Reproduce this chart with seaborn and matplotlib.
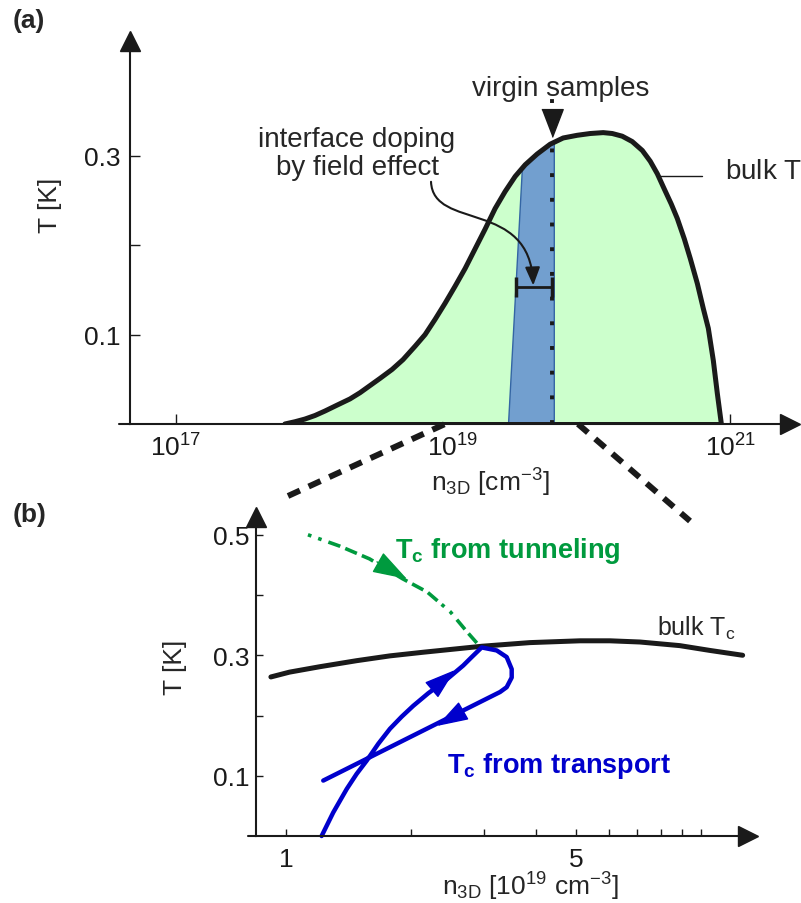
import numpy as np
import matplotlib
matplotlib.use("Agg")
import matplotlib.pyplot as plt
import seaborn as sns
from matplotlib.lines import Line2D
from matplotlib.patches import FancyArrowPatch
from matplotlib.path import Path

# ---------------- panel (a): bulk Tc dome, x in log10(n / cm^-3) ----------------
dome_exp = np.array([17.787, 17.859, 17.931, 18.004, 18.076, 18.162, 18.256, 18.329,
                     18.401, 18.473, 18.560, 18.639, 18.726, 18.798, 18.870, 18.942,
                     19.014, 19.087, 19.159, 19.231, 19.303, 19.375, 19.448, 19.520,
                     19.606, 19.700, 19.794, 19.895, 19.989, 20.083, 20.148, 20.220,
                     20.292, 20.365, 20.422, 20.473, 20.523, 20.574, 20.617, 20.668,
                     20.711, 20.762, 20.805, 20.841, 20.877, 20.906, 20.935])
dome_T = np.array([0.0, 0.0025, 0.0055, 0.0095, 0.0145, 0.021, 0.028, 0.035,
                   0.043, 0.051, 0.061, 0.072, 0.087, 0.100, 0.117, 0.135,
                   0.154, 0.174, 0.196, 0.218, 0.241, 0.260, 0.277, 0.290,
                   0.302, 0.313, 0.320, 0.323, 0.325, 0.326, 0.325, 0.322,
                   0.316, 0.306, 0.294, 0.280, 0.263, 0.246, 0.230, 0.207,
                   0.185, 0.157, 0.129, 0.107, 0.071, 0.034, 0.0])

band_bottom_exp = 19.40   # left edge of field-effect band at T = 0
band_top_exp = 19.50      # left edge where it meets the dome
band_right_exp = 19.73
virgin_exp = 19.71
gate_exp = [19.455, 19.715]
gate_T = 0.153

xticks_a = [17, 18, 19, 20, 21]
xlabels_a = ["$10^{17}$", "", "$10^{19}$", "", "$10^{21}$"]
yticks_a = [0.1, 0.2, 0.3]
ylabels_a = ["0.1", "", "0.3"]

# ---------------- panel (b): zoom, n in 1e19 cm^-3 ----------------
bulk_n = [0.92, 1.02, 1.207, 1.48, 1.781, 2.14, 2.97, 3.87, 5.11, 6.035, 7.13, 8.89, 10.51, 12.6]
bulk_T = [0.264, 0.272, 0.281, 0.291, 0.299, 0.305, 0.315, 0.321, 0.324, 0.324, 0.322, 0.316, 0.308, 0.300]

tunnel_n = [1.13, 1.35, 1.59, 1.91, 2.19, 2.49, 2.73, 2.93]
tunnel_T = [0.500, 0.481, 0.460, 0.427, 0.405, 0.372, 0.339, 0.315]

transport_n = [1.219, 1.300, 1.401, 1.480, 1.565, 1.669, 1.781, 1.900, 2.026, 2.203,
               2.393, 2.530, 2.674, 2.803, 2.962, 3.220, 3.403, 3.499, 3.499, 3.403,
               3.280, 1.230]
transport_T = [0.0, 0.039, 0.078, 0.103, 0.125, 0.153, 0.178, 0.198, 0.216, 0.237,
               0.255, 0.269, 0.283, 0.297, 0.313, 0.308, 0.297, 0.277, 0.263, 0.247,
               0.239, 0.092]

xticks_b = [1, 2, 3, 4, 5, 6, 7, 8, 9, 10]
xlabels_b = ["1", "", "", "", "5", "", "", "", "", ""]
yticks_b = [0.1, 0.2, 0.3, 0.4, 0.5]
ylabels_b = ["0.1", "", "0.3", "", "0.5"]

GREEN = "#009a3e"
BLUE = "#0000cc"

sns.set_theme(style="white")
plt.rcParams["font.family"] = ["Liberation Sans", "DejaVu Sans"]
plt.rcParams["mathtext.default"] = "regular"

W, H = 801, 904
fig = plt.figure(figsize=(W / 100, H / 100), dpi=100)


def frac(x, y):
    # pixel position (from top-left) -> figure fraction
    return x / W, 1 - y / H


def style_axes(ax, tick_len, pad):
    for s in ("top", "right"):
        ax.spines[s].set_visible(False)
    for s in ("left", "bottom"):
        ax.spines[s].set_linewidth(1.5)
        ax.spines[s].set_color("k")
    ax.tick_params(direction="in", length=tick_len, width=1, colors="k",
                   labelsize=19, pad=pad, bottom=True, left=True)
    ax.xaxis.set_minor_locator(matplotlib.ticker.NullLocator())
    # arrow heads on the axes
    ax.plot(1, 0, ">", color="k", ms=15, transform=ax.transAxes, clip_on=False)
    ax.plot(0, 1, "^", color="k", ms=15, transform=ax.transAxes, clip_on=False)
    ax.grid(False)


# ---------------- panel (a) ----------------
ax1 = fig.add_axes([130 / W, 1 - 425 / H, (790 - 130) / W, (425 - 42) / H])
ax1.set_xscale("log")
ax1.set_xlim(10 ** 16.67, 10 ** 21.43)
ax1.set_ylim(0, 0.4285)

dome_n = 10 ** dome_exp
ax1.fill_between(dome_n, dome_T, 0, color="#ccffcc", lw=0)

in_band = (dome_exp > band_top_exp) & (dome_exp < band_right_exp)
band_exp = np.concatenate([[band_bottom_exp, band_top_exp], dome_exp[in_band],
                           [band_right_exp, band_right_exp]])
band_T = np.concatenate([[0, np.interp(band_top_exp, dome_exp, dome_T)], dome_T[in_band],
                         [np.interp(band_right_exp, dome_exp, dome_T), 0]])
ax1.fill(10 ** band_exp, band_T, facecolor="#729fcf", edgecolor="#3465a4", lw=1)

ax1.plot([10 ** virgin_exp] * 2, [0, 0.37], color="k", lw=2.8,
         linestyle=(0, (1.0, 5.35)), dash_capstyle="butt", clip_on=False)

sns.lineplot(x=dome_n, y=dome_T, estimator=None, sort=False, color="k", lw=3.6, ax=ax1)
ax1.plot([dome_n[0], dome_n[-1]], [0, 0], color="k", lw=3.6, solid_capstyle="butt")

tri_down = [(-1, 1.3), (1, 1.3), (0, -1.3)]
ax1.plot(10 ** virgin_exp, 0.337, marker=tri_down, ms=20, color="k", clip_on=False)

ax1.plot(10 ** np.array(gate_exp), [gate_T, gate_T], color="k", lw=2,
         marker="|", ms=14, mew=2.5)

curve = Path([(10 ** 18.841, 0.271), (10 ** 18.856, 0.216), (10 ** 19.556, 0.252),
              (10 ** 19.578, 0.155)],
             [Path.MOVETO, Path.CURVE4, Path.CURVE4, Path.CURVE4])
ax1.add_patch(FancyArrowPatch(path=curve, arrowstyle="-|>,head_length=1.1,head_width=0.45",
                              mutation_scale=10, color="k", lw=1.5))

ax1.set_xticks([10.0 ** e for e in xticks_a], labels=xlabels_a)
ax1.set_yticks(yticks_a, labels=ylabels_a)
ax1.set_xlabel("")
ax1.set_ylabel("")
style_axes(ax1, tick_len=7, pad=7)
ax1.plot([-0.016, 0], [0, 0], color="k", lw=1.5, transform=ax1.transAxes, clip_on=False)

# ---------------- panel (b) ----------------
ax2 = fig.add_axes([256 / W, 1 - 837 / H, (748 - 256) / W, (837 - 518) / H])
ax2.set_xscale("log")
ax2.set_xlim(0.847, 12.98)
ax2.set_ylim(0, 0.5295)

sns.lineplot(x=bulk_n, y=bulk_T, estimator=None, sort=False, color="k", lw=3.6, ax=ax2)
sns.lineplot(x=tunnel_n, y=tunnel_T, estimator=None, sort=False, color=GREEN, lw=2.6,
             linestyle=(0, (1, 2, 1, 2, 3.5, 1.5, 3.5, 1.5, 3.5, 1.5)), ax=ax2)
sns.lineplot(x=transport_n, y=transport_T, estimator=None, sort=False, color=BLUE,
             lw=3.2, ax=ax2, clip_on=False)

ax2.annotate("", xy=(1.957, 0.4266), xytext=(1.657, 0.455),
             arrowprops=dict(arrowstyle="-|>,head_length=2.2,head_width=0.72",
                             mutation_scale=10, color=GREEN, lw=1, shrinkA=0, shrinkB=0))
ax2.annotate("", xy=(2.554, 0.2755), xytext=(2.257, 0.244),
             arrowprops=dict(arrowstyle="-|>,head_length=2.0,head_width=0.65",
                             mutation_scale=10, color=BLUE, lw=1, shrinkA=0, shrinkB=0))
ax2.annotate("", xy=(2.312, 0.1826), xytext=(2.65, 0.206),
             arrowprops=dict(arrowstyle="-|>,head_length=2.0,head_width=0.65",
                             mutation_scale=10, color=BLUE, lw=1, shrinkA=0, shrinkB=0))

ax2.set_xticks(xticks_b, labels=xlabels_b)
ax2.set_yticks(yticks_b, labels=ylabels_b)
ax2.set_xlabel("")
ax2.set_ylabel("")
style_axes(ax2, tick_len=5, pad=5)
ax2.tick_params(axis="x", pad=8)
ax2.plot([-0.016, 0], [0, 0], color="k", lw=1.5, transform=ax2.transAxes, clip_on=False)

# ---------------- texts and guide lines ----------------
fig.text(*frac(13, 21), "(a)", fontsize=19, fontweight="bold", va="center")
fig.text(*frac(13, 515), "(b)", fontsize=19, fontweight="bold", va="center")

fig.text(*frac(50, 205), "T [K]", fontsize=19, rotation=90, ha="center", va="center")
fig.text(*frac(175, 667), "T [K]", fontsize=19, rotation=90, ha="center", va="center")
fig.text(*frac(490, 483), "n$_{3D}$ [cm$^{-3}$]", fontsize=19, ha="center", va="center")
fig.text(*frac(530, 887), "n$_{3D}$ [10$^{19}$ cm$^{-3}$]", fontsize=19, ha="center", va="center")

fig.text(*frac(561, 96), "virgin samples", fontsize=20, ha="center", va="baseline")
fig.text(*frac(357, 154), "interface doping\nby field effect", fontsize=20,
         ha="center", va="center", linespacing=1.1)
fig.text(*frac(725, 180), "bulk T$_c$", fontsize=20, va="baseline")
fig.add_artist(Line2D([658 / W, 702 / W], [1 - 177 / H, 1 - 177 / H], color="k", lw=1))

fig.text(*frac(395, 558), "T$_c$ from tunneling", fontsize=19.5, fontweight="bold",
         color=GREEN, va="baseline")
fig.text(*frac(447, 773), "T$_c$ from transport", fontsize=19.5, fontweight="bold",
         color=BLUE, va="baseline")
fig.text(*frac(657, 636), "bulk T$_c$", fontsize=18, va="baseline")

for (x0, y0), (x1, y1) in [((288, 497), (445, 425)), ((578, 425), (690, 522))]:
    fig.add_artist(Line2D([x0 / W, x1 / W], [1 - y0 / H, 1 - y1 / H], color="k",
                          lw=4.3, dashes=(2.2, 1.6), solid_capstyle="butt"))

fig.savefig("out.png", dpi=100)
